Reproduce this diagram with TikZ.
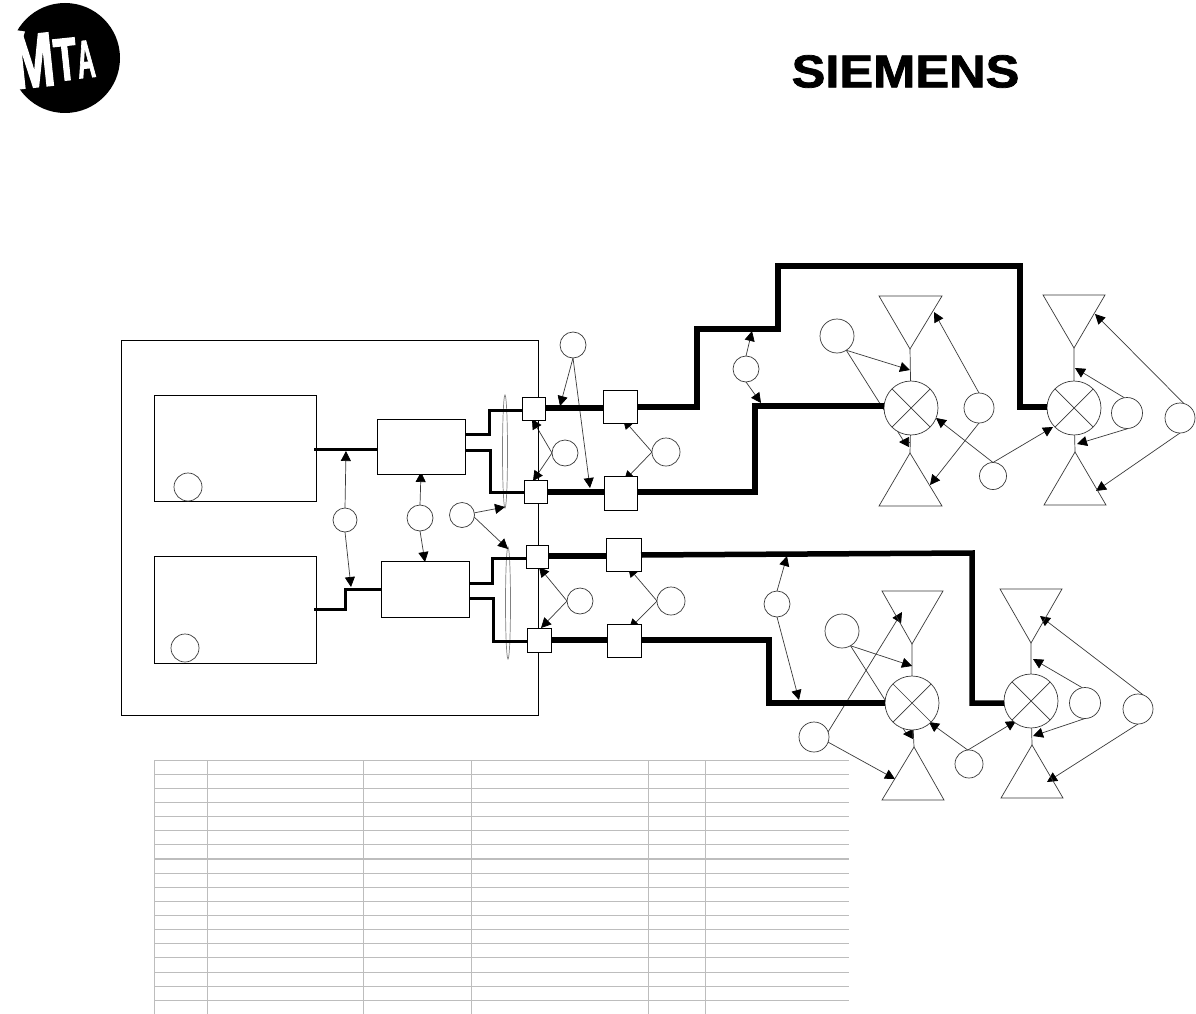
\documentclass[tikz,border=0pt]{standalone}
\usepackage{fontspec}
\setmainfont{Liberation Sans}
\newfontfamily\mtaheavy{Liberation Sans Bold}[FakeBold=2.5]
\newfontfamily\siemensheavy{Liberation Sans Bold}[FakeBold=1.6]
\usetikzlibrary{arrows.meta,shapes.geometric}
\pgfdeclarelayer{under}
\pgfsetlayers{under,main}
\definecolor{tablegray}{HTML}{BDBDBD}
\definecolor{thinline}{HTML}{3A3A3A}
\tikzset{
  boxn/.style={draw=black,line width=1pt,fill=white,inner sep=0pt,outer sep=0pt},
  framen/.style={draw=black,line width=1pt,inner sep=0pt,outer sep=0pt},
  circn/.style={draw=thinline,line width=.7pt,fill=white,circle,inner sep=0pt,outer sep=0pt},
  valven/.style={circn,minimum size=54pt},
  pointer/.style={draw=thinline,line width=.7pt,-{Triangle[length=10pt,width=10pt,fill=black,color=black]}},
  plainline/.style={draw=thinline,line width=.7pt},
  shape3/.style={draw=thinline,line width=.7pt,line join=miter},
  bus/.style={draw=black,line width=3pt,line join=miter,line cap=butt},
  trunk/.style={draw=black,line width=5.5pt,line join=miter,line cap=butt},
  grid/.style={draw=tablegray,line width=1pt}
}
\newcommand{\boxat}[5]{\node[boxn,minimum width={(#4-#2)*1pt},minimum height={(#5-#3)*1pt}] (#1) at ({(#2+#4)/2},{(#3+#5)/2}) {};}
\newcommand{\frameat}[5]{\node[framen,minimum width={(#4-#2)*1pt},minimum height={(#5-#3)*1pt}] (#1) at ({(#2+#4)/2},{(#3+#5)/2}) {};}
\newcommand{\circat}[4]{\node[circn,minimum size={2*#4*1pt}] (#1) at (#2,#3) {};}
\newcommand{\valveat}[3]{\node[valven] (#1) at (#2,#3) {};
  \draw[plainline] (#1.45) -- (#1.225) (#1.135) -- (#1.315);}
\begin{document}
\begin{tikzpicture}[x=1pt,y=-1pt]
\useasboundingbox (0,0) rectangle (1196,1014);
\begin{pgfonlayer}{under}
\fill[white] (0,0) rectangle (1196,1014);
\end{pgfonlayer}
% logos
\node[circle,fill=black,minimum size=110pt,inner sep=0pt] (mtadisc) at (65,58) {};
\fill[white] (0,27) -- (9,29) -- (25,31.5) -- (17,56) -- (25,87) -- (12,91) -- (0,93) -- cycle;
\node[text=white,rotate=6,inner sep=0pt,anchor=base west] (mtaword) at (15,89)
  {\mtaheavy\fontsize{76pt}{76pt}\selectfont\scalebox{.66}[1]{M}\fontsize{60pt}{60pt}\selectfont\raisebox{3.5pt}{\scalebox{.62}[1]{T}}\fontsize{53pt}{53pt}\selectfont\raisebox{4pt}{\scalebox{.46}[1]{A}}};
\node[inner sep=0pt] (siemens) at (905.5,71.5) {\siemensheavy\fontsize{46pt}{46pt}\selectfont\scalebox{1.1}[1]{SIEMENS}};
% table
\foreach \yy in {760,774,788,802,816,830,844,873,887,901,915,929,943,957,972,986,1000}
  \draw[grid] (154,\yy) -- (849,\yy);
\draw[grid,line width=2pt] (154,858.5) -- (849,858.5);
\foreach \xx in {154.5,207.5,363.5,471.5,648,705.5}
  \draw[grid] (\xx,760) -- (\xx,1014);
% boxes
\frameat{frame}{121}{340}{538}{715}
\boxat{unitA}{154}{395}{316}{501}
\boxat{unitB}{154}{556}{316}{663}
\boxat{ctlC}{377}{419}{465.5}{474.5}
\boxat{ctlD}{381}{561}{469}{617}
\boxat{s1}{522}{397}{545}{420}
\boxat{s2}{524}{480}{547}{503}
\boxat{s3}{526}{545}{548}{568}
\boxat{s4}{527}{628}{551}{652}
\boxat{b1}{603}{390}{637}{423}
\boxat{b2}{604}{476}{637}{510}
\boxat{b3}{606}{538}{641}{571}
\boxat{b4}{607}{624}{641}{657}
% circles
\circat{cUA}{188}{487}{14}
\circat{cUB}{185}{648}{14}
\circat{cA}{345}{520}{12}
\circat{cB}{420}{518}{13}
\circat{cL}{462}{515}{12.5}
\circat{cT}{573}{345}{13}
\circat{cS}{565}{453}{13}
\circat{cR}{666}{452}{14}
\circat{cSb}{580}{601}{13}
\circat{cRb}{671}{601}{14}
\circat{cM}{746}{369}{13}
\circat{cN}{777}{604}{13}
\circat{cUa}{837}{336}{17}
\circat{cUb}{979}{408}{15}
\circat{cUc}{993}{476}{13.5}
\circat{cUd}{1127}{413}{15.5}
\circat{cUe}{1180}{418}{15}
\circat{cDz}{814}{737}{15}
\circat{cDa}{842}{631}{17}
\circat{cDc}{969}{764}{14}
\circat{cDd}{1085}{703}{15.5}
\circat{cDe}{1138}{709}{15}
% valves
\valveat{v1}{911}{408}
\valveat{v2}{1074}{408}
\valveat{v3}{912}{703}
\valveat{v4}{1031}{701}
% free ends
\foreach \nn/\xx/\yy in {
 e1/560/406,e2/590/488,e3/532/419,e4/533/481,e5/623/419,e6/624/481,
 e7/505/507,e8/508/549,e9/539/567,e10/541/628,e11/628/567,e12/629/629,
 e13/346/451,e14/351/587,e15/421/472,e16/425/562,e17/752/331,e18/761/403,
 e19/787/556,e20/799/700,
 f1/910/370,f2/934/312,f3/930/485,f4/936/418,f5/1053/427,f6/1075/368,f7/1077/444,f8/1095/314,f9/1096/491,
 g1/912/666,g2/902/612,g3/895/779,g4/929/722,g5/1016/721,g6/1033/659,g7/1033/736,g8/1040/616,g9/1047/782,
 h1/903/440,h2/909/442,h3/899/442,h4/906/733,h5/913/734,h6/903/734,
 ta1/910/349,ta2/910/453,ta3/1074/348,ta4/1075/452,ta5/912/644,ta6/914/747,ta7/1031/643,ta8/1032/745,
 n1/314/449.5,n2/377/449.5,n3/314/609,n4/345/609,n5/345/589,n6/381/589,
 o1/465.5/434,o2/489/434,o3/489/410,o4/522/410,
 o5/465.5/450,o6/490/450,o7/490/492,o8/524/492,
 o9/469/583,o10/492/583,o11/492/558,o12/526/558,
 o13/469/598,o14/493/598,o15/493/641,o16/527/641,
 q1/545/408,q2/603/408,q3/547/492,q4/604/492,q5/548/556,q6/606/556,q7/551/640,q8/607/640,
 r1/637/407,r2/697/407,r3/697/329,r4/778/329,r5/778/266,r6/1020/266,r7/1020/407,
 r8/637/492,r9/755/492,r10/755/406,
 r11/641/555,r12/972/553,r13/972/703,
 r14/641/640,r15/769/640,r16/769/703,
 t1/1047/407,t2/884/406,t3/1004/703,t4/885/703}
  \coordinate (\nn) at (\xx,\yy);
% triangles
\draw[shape3] (879,296) -- (942,296) -- (ta1) -- cycle;
\draw[shape3] (879,506) -- (942,506) -- (ta2) -- cycle;
\draw[shape3] (1043,295) -- (1105,295) -- (ta3) -- cycle;
\draw[shape3] (1044,505) -- (1106,505) -- (ta4) -- cycle;
\draw[shape3] (882,591) -- (943,591) -- (ta5) -- cycle;
\draw[shape3] (882,800) -- (944,800) -- (ta6) -- cycle;
\draw[shape3] (1000,589) -- (1062,589) -- (ta7) -- cycle;
\draw[shape3] (1001,798) -- (1063,798) -- (ta8) -- cycle;
\begin{pgfonlayer}{under}
 % stems
 \draw[plainline] (ta1) -- (v1) (ta2) -- (v1) (ta3) -- (v2) (ta4) -- (v2)
   (ta5) -- (v3) (ta6) -- (v3) (ta7) -- (v4) (ta8) -- (v4);
 % ellipses
 \node[draw=gray,line width=.7pt,ellipse,minimum width=5pt,minimum height=113pt,inner sep=0pt] (ell1) at (505,451.5) {};
 \node[draw=gray,line width=.7pt,ellipse,minimum width=5pt,minimum height=112pt,inner sep=0pt] (ell2) at (508,603) {};
 % pointers
 \draw[pointer] (cT.south) -- (e1);
 \draw[pointer] (cT.south) -- (e2);
 \draw[pointer] (cS.west) -- (e3);
 \draw[pointer] (cS.west) -- (e4);
 \draw[pointer] (cR.west) -- (e5);
 \draw[pointer] (cR.west) -- (e6);
 \draw[pointer] (cL.10) -- (e7);
 \draw[pointer] (cL.-10) -- (e8);
 \draw[pointer] (cSb.west) -- (e9);
 \draw[pointer] (cSb.west) -- (e10);
 \draw[pointer] (cRb.west) -- (e11);
 \draw[pointer] (cRb.west) -- (e12);
 \draw[pointer] (cA.north) -- (e13);
 \draw[pointer] (cA.south) -- (e14);
 \draw[pointer] (cB.north) -- (e15);
 \draw[pointer] (cB.south) -- (e16);
 \draw[pointer] (cM.north) -- (e17);
 \draw[pointer] (cM.south) -- (e18);
 \draw[pointer] (cN.north) -- (e19);
 \draw[pointer] (cN.south) -- (e20);
 \draw[pointer] (cUa.-57) -- (f1);
 \draw[plainline] (cUa.-57) -- (h1);
 \draw[pointer] (h2) -- (h3);
 \draw[pointer] (cUb.north) -- (f2);
 \draw[pointer] (cUb.south) -- (f3);
 \draw[pointer] (cUc.north) -- (f4);
 \draw[pointer] (cUc.north) -- (f5);
 \draw[pointer] (cUd.100) -- (f6);
 \draw[pointer] (cUd.-85) -- (f7);
 \draw[pointer] (cUe.75) -- (f8);
 \draw[pointer] (cUe.south) -- (f9);
 \draw[pointer] (cDa.-60) -- (g1);
 \draw[plainline] (cDa.-60) -- (h4);
 \draw[pointer] (h5) -- (h6);
 \draw[pointer] (cDz.20) -- (g2);
 \draw[pointer] (cDz.-20) -- (g3);
 \draw[pointer] (cDc.95) -- (g4);
 \draw[pointer] (cDc.95) -- (g5);
 \draw[pointer] (cDd.100) -- (g6);
 \draw[pointer] (cDd.south) -- (g7);
 \draw[pointer] (cDe.70) -- (g8);
 \draw[pointer] (cDe.south) -- (g9);
\end{pgfonlayer}
% buses
\draw[bus] (n1) -- (n2);
\draw[bus] (n3) -- (n4) -- (n5) -- (n6);
\draw[bus] (o1) -- (o2) -- (o3) -- (o4);
\draw[bus] (o5) -- (o6) -- (o7) -- (o8);
\draw[bus] (o9) -- (o10) -- (o11) -- (o12);
\draw[bus] (o13) -- (o14) -- (o15) -- (o16);
% trunks
\draw[trunk] (q1) -- (q2);
\draw[trunk] (q3) -- (q4);
\draw[trunk] (q5) -- (q6);
\draw[trunk] (q7) -- (q8);
\draw[trunk] (r1) -- (r2) -- (r3) -- (r4) -- (r5) -- (r6) -- (r7) -- (t1);
\draw[trunk] (r8) -- (r9) -- (r10) -- (t2);
\draw[trunk] (r11) -- (r12) -- (r13) -- (t3);
\draw[trunk] (r14) -- (r15) -- (r16) -- (t4);
\end{tikzpicture}
\end{document}
